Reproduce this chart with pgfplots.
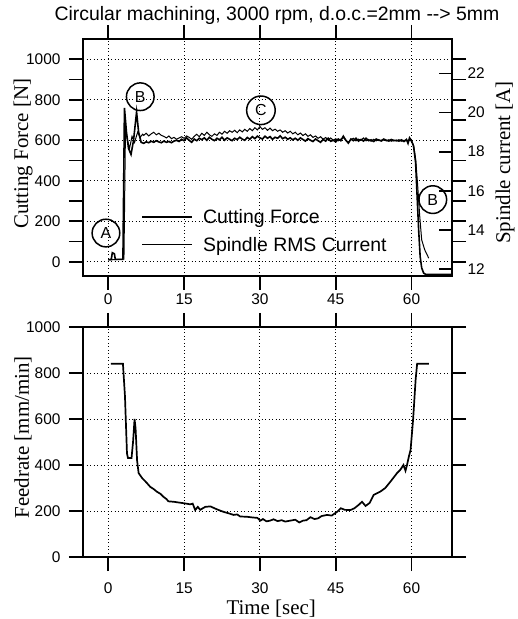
\documentclass[border=0pt]{standalone}
\usepackage{pgfplots}
\pgfplotsset{compat=1.18}
\usepackage{fontspec}
\setmainfont{Liberation Sans}
\newfontfamily\seriffont{Liberation Serif}

\pgfplotstableread{
t F
0 10
0.6 12
0.8 45
1.2 40
1.4 12
2.9 12
3.2 760
3.6 640
4.0 560
4.5 530
5.0 600
5.6 740
6.0 640
6.5 590
7 585
7.5 592
8 588
8.5 595
9 590
9.5 598
10 592
10.5 588
11 596
11.5 590
12 594
12.5 588
13 596
13.5 600
14 594
14.5 605
15 598
15.5 612
16 600
16.5 590
17 606
17.5 598
18 610
18.5 603
19 612
19.5 600
20 615
20.5 605
21 598
21.5 610
22 602
22.5 615
23 600
23.5 612
24 605
24.5 598
25 610
25.5 603
26 615
26.5 606
27 600
27.5 614
28 605
28.5 618
29 608
29.5 620
30 612
30.5 606
31 620
31.5 610
32 618
32.5 605
33 615
33.5 610
34 622
34.5 608
35 615
35.5 605
36 612
36.5 602
37 610
37.5 600
38 612
38.5 604
39 596
39.5 608
40 600
40.5 594
41 606
41.5 598
42 590
42.5 604
43 596
43.5 610
44 595
44.5 600
45 592
45.5 606
46 598
46.5 620
47 600
47.5 586
48 606
48.5 598
49 610
49.5 596
50 604
50.5 596
51 610
51.5 598
52 602
52.5 594
53 606
53.5 600
54 598
54.5 606
55 600
55.5 596
56 604
56.5 598
57 600
57.5 596
58 602
58.5 594
59 604
59.3 585
59.6 612
60 598
60.4 570
60.8 490
61.1 323
61.4 158
61.7 26
62.0 -30
62.4 -56
62.8 -62
68 -62
}\forcetable

\pgfplotstableread{
t A
0 12.46
3.1 12.50
3.4 19.09
3.8 18.58
4.2 18.16
4.7 18.78
5.2 18.47
5.8 18.99
6.3 18.73
6.8 18.89
7 18.83
7.5 18.94
8 18.80
8.5 18.91
9 18.99
9.5 18.86
10 18.94
10.5 18.83
11 18.78
11.5 18.70
12 18.80
12.5 18.66
13 18.73
13.5 18.63
14 18.70
14.5 18.76
15 18.68
15.5 18.80
16 18.73
16.5 18.63
17 18.78
17.5 18.89
18 18.76
18.5 18.94
19 18.83
19.5 18.99
20 18.86
20.5 18.78
21 18.91
21.5 18.83
22 18.99
22.5 18.89
23 19.04
23.5 18.94
24 19.07
24.5 18.99
25 19.09
25.5 18.97
26 19.11
26.5 19.01
27 19.14
27.5 19.04
28 19.18
28.5 19.07
29 19.22
29.5 19.11
30 19.28
30.5 19.14
31 19.22
31.5 19.09
32 19.20
32.5 19.07
33 19.15
33.5 19.04
34 19.11
34.5 18.99
35 19.07
35.5 18.95
36 19.04
36.5 18.91
37 18.99
37.5 18.86
38 18.95
38.5 18.82
39 18.91
39.5 18.78
40 18.86
40.5 18.73
41 18.80
41.5 18.68
42 18.76
42.5 18.64
43 18.72
43.5 18.60
44 18.70
44.5 18.58
45 18.66
45.5 18.55
46 18.64
46.5 18.73
47 18.58
47.5 18.47
48 18.62
48.5 18.68
49 18.55
49.5 18.64
50 18.58
50.5 18.70
51 18.55
51.5 18.62
52 18.53
52.5 18.63
53 18.55
53.5 18.62
54 18.53
54.5 18.60
55 18.55
55.5 18.61
56 18.53
56.5 18.59
57 18.54
57.5 18.61
58 18.53
58.5 18.58
59 18.55
59.5 18.60
60 18.53
60.4 18.32
60.8 17.64
61.2 16.30
61.6 14.74
62.0 13.49
62.6 12.98
63.4 12.55
}\currenttable

\pgfplotstableread{
t V
0.5 840
2.9 840
3.3 700
3.7 450
3.9 430
4.6 430
4.9 500
5.2 600
5.4 560
5.7 420
6.0 365
6.7 343
7.5 325
8.3 305
9.0 295
9.6 284
10.3 275
10.9 262
11.5 252
11.9 242
13 240
14.2 236
15.2 233
16.2 229
16.7 232
17.2 204
17.7 218
18.2 205
18.7 212
19.2 218
20.2 220
21.2 210
22.2 201
23 195
23.8 190
24.8 183
25.5 185
26.1 176
27.4 175
28.5 172
29.5 170
30.1 158
30.6 165
31.3 155
32 158
32.7 164
33.5 156
34.3 160
35 154
36.0 158
37 162
37.8 150
38.5 158
39.2 160
40.0 173
40.8 165
41.5 168
42.2 178
43.3 183
44.2 180
45.3 197
46.0 212
46.8 205
47.9 204
48.7 212
49.5 226
50.2 240
50.9 222
51.7 235
52.5 270
53.8 284
54.8 300
55.8 327
57.1 364
57.8 380
58.4 400
58.8 375
59.1 400
59.5 440
59.8 465
60.3 596
60.8 770
61.1 840
63.4 840
}\feedtable

\begin{document}
\begin{tikzpicture}[x=1bp,y=1bp]
\useasboundingbox (0,0) rectangle (518,619);
\pgfplotsset{
 every axis/.append style={
  scale only axis, width=369bp,
  xmin=-5, xmax=68,
  axis line style={line width=1.8bp},
  every tick/.style={line width=1.8bp, black},
  /pgf/number format/assume math mode=true,
  /pgf/number format/1000 sep={},
  tick label style={font=\fontsize{15.5}{15.5}\selectfont},
  grid style={black, line width=0.9bp, dash pattern=on 0.9bp off 2.6bp},
  label style={font=\seriffont\fontsize{21}{21}\selectfont},
 },
}
\node[font=\fontsize{19.5}{19.5}\selectfont] at (277,604) {Circular machining, 3000 rpm, d.o.c.=2mm -{}-> 5mm};

% top panel
\begin{axis}[at={(83bp,343bp)}, anchor=south west, height=237bp,
 ymin=-70, ymax=1100, ytick={0,200,...,1000}, minor ytick={100,300,...,900},
 xtick={0,15,...,60},
 tick align=outside, major tick length=14bp, minor tick length=14bp,
 yticklabel style={xshift=-5bp},
 ymajorgrids, xmajorgrids,
 ylabel={Cutting Force [N]},
 ylabel style={at={(rel axis cs:0,0.517)}, anchor=center, yshift=60bp},
 legend style={draw=none, fill=none, at={(rel axis cs:0.158,0.29)}, anchor=north west,
   font=\fontsize{19.5}{20}\selectfont, row sep=8bp, inner sep=0pt},
 legend cell align=left,
 legend image code/.code={\draw[#1] (0bp,0bp) -- (50bp,0bp); \path (58bp,0bp);},
]
\addplot[black, line width=1.6bp] table[x=t, y=F] {\forcetable};
\addlegendentry{Cutting Force}
\addlegendimage{black, line width=1.0bp}
\addlegendentry{Spindle RMS Current}
\begin{scope}[every node/.style={circle, draw, line width=1.5bp, inner sep=4.4bp, font=\fontsize{16}{16}\selectfont, fill=none}]
\node at (axis cs:-0.46,142) {A};
\node at (axis cs:6.33,815) {B};
\node at (axis cs:30.2,748) {C};
\node at (axis cs:64.2,307) {B};
\end{scope}
\end{axis}

\begin{axis}[at={(83bp,343bp)}, anchor=south west, height=237bp,
 ymin=11.64, ymax=23.76, ytick={12,14,...,22},
 axis y line*=right, hide x axis,
 tick align=inside, major tick length=13bp,
 yticklabel style={xshift=12bp},
 ylabel={Spindle current [A]},
 ylabel style={at={(rel axis cs:1,0.479)}, anchor=center, yshift=-53bp},
]
\addplot[black, line width=1.0bp] table[x=t, y=A] {\currenttable};
\end{axis}

% bottom panel
\begin{axis}[at={(83bp,62bp)}, anchor=south west, height=230bp,
 ymin=0, ymax=1000, ytick={0,200,...,1000},
 xtick={0,15,...,60},
 tick align=outside, major tick length=14bp,
 yticklabel style={xshift=-5bp},
 xticklabel style={yshift=-8bp},
 ymajorgrids, xmajorgrids,
 ylabel={Feedrate [mm/min]},
 ylabel style={at={(rel axis cs:0,0.52)}, anchor=center, yshift=60bp},
 xlabel={Time [sec]},
 xlabel style={at={(rel axis cs:0.51,0)}, anchor=center, yshift=-52bp},
]
\addplot[black, line width=1.7bp] table[x=t, y=V] {\feedtable};
\end{axis}
\end{tikzpicture}
\end{document}
